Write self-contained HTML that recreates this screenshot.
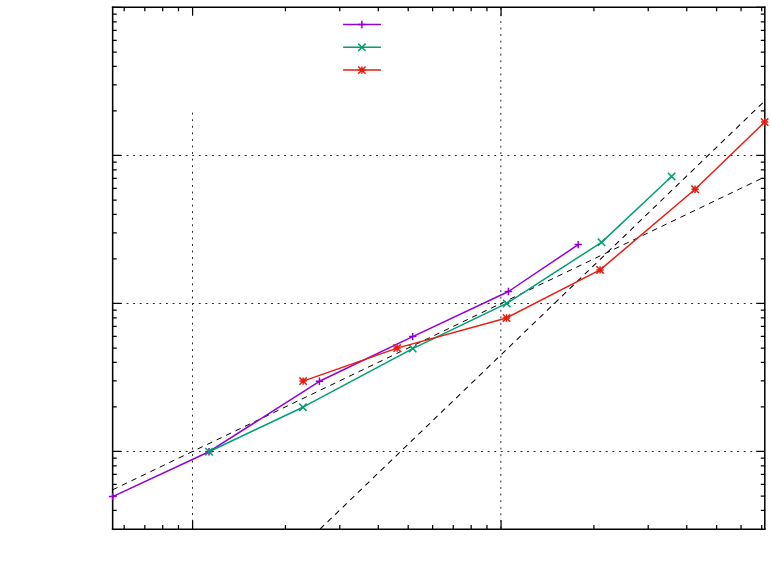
<!DOCTYPE html><html><head><meta charset="utf-8"><style>html,body{margin:0;padding:0;background:#fff;font-family:"Liberation Sans",sans-serif}svg{display:block;position:absolute;left:0;top:0}</style></head><body>
<svg width="771" height="572" viewBox="0 0 771 572">
<rect width="771" height="572" fill="#fff"/>
<line x1="113.47" y1="451.50" x2="764.85" y2="451.50" stroke="#262626" stroke-width="1.0" stroke-dasharray="1.9 4.665" fill="none"/>
<line x1="113.47" y1="303.50" x2="764.85" y2="303.50" stroke="#262626" stroke-width="1.0" stroke-dasharray="1.9 4.665" fill="none"/>
<line x1="113.47" y1="155.50" x2="764.85" y2="155.50" stroke="#262626" stroke-width="1.0" stroke-dasharray="1.9 4.665" fill="none"/>
<line x1="192.50" y1="112.7" x2="192.50" y2="529.1" stroke="#262626" stroke-width="1.0" stroke-dasharray="1.9 4.665" fill="none"/>
<line x1="500.85" y1="7.83" x2="500.85" y2="529.1" stroke="#262626" stroke-width="1.0" stroke-dasharray="1.9 4.665" fill="none"/>
<path d="M124.17 529.1v-4.1M124.17 7.2v4.1M144.82 529.1v-4.1M144.82 7.2v4.1M162.71 529.1v-4.1M162.71 7.2v4.1M178.49 529.1v-4.1M178.49 7.2v4.1M192.60 529.1v-8.6M192.60 7.2v8.6M285.45 529.1v-4.1M285.45 7.2v4.1M339.77 529.1v-4.1M339.77 7.2v4.1M378.31 529.1v-4.1M378.31 7.2v4.1M408.20 529.1v-4.1M408.20 7.2v4.1M432.62 529.1v-4.1M432.62 7.2v4.1M453.27 529.1v-4.1M453.27 7.2v4.1M471.16 529.1v-4.1M471.16 7.2v4.1M486.94 529.1v-4.1M486.94 7.2v4.1M501.05 529.1v-8.6M501.05 7.2v8.6M593.90 529.1v-4.1M593.90 7.2v4.1M648.22 529.1v-4.1M648.22 7.2v4.1M686.76 529.1v-4.1M686.76 7.2v4.1M716.65 529.1v-4.1M716.65 7.2v4.1M741.07 529.1v-4.1M741.07 7.2v4.1M761.72 529.1v-4.1M761.72 7.2v4.1M112.65 510.35h4.1M764.85 510.35h-4.1M112.65 496.00h4.1M764.85 496.00h-4.1M112.65 484.28h4.1M764.85 484.28h-4.1M112.65 474.38h4.1M764.85 474.38h-4.1M112.65 465.79h4.1M764.85 465.79h-4.1M112.65 458.22h4.1M764.85 458.22h-4.1M112.65 451.45h8.6M764.85 451.45h-8.6M112.65 406.90h4.1M764.85 406.90h-4.1M112.65 380.84h4.1M764.85 380.84h-4.1M112.65 362.35h4.1M764.85 362.35h-4.1M112.65 348.00h4.1M764.85 348.00h-4.1M112.65 336.28h4.1M764.85 336.28h-4.1M112.65 326.38h4.1M764.85 326.38h-4.1M112.65 317.79h4.1M764.85 317.79h-4.1M112.65 310.22h4.1M764.85 310.22h-4.1M112.65 303.45h8.6M764.85 303.45h-8.6M112.65 258.90h4.1M764.85 258.90h-4.1M112.65 232.84h4.1M764.85 232.84h-4.1M112.65 214.35h4.1M764.85 214.35h-4.1M112.65 200.00h4.1M764.85 200.00h-4.1M112.65 188.28h4.1M764.85 188.28h-4.1M112.65 178.38h4.1M764.85 178.38h-4.1M112.65 169.79h4.1M764.85 169.79h-4.1M112.65 162.22h4.1M764.85 162.22h-4.1M112.65 155.45h8.6M764.85 155.45h-8.6M112.65 110.90h4.1M764.85 110.90h-4.1M112.65 84.84h4.1M764.85 84.84h-4.1M112.65 66.35h4.1M764.85 66.35h-4.1M112.65 52.00h4.1M764.85 52.00h-4.1M112.65 40.28h4.1M764.85 40.28h-4.1M112.65 30.38h4.1M764.85 30.38h-4.1M112.65 21.79h4.1M764.85 21.79h-4.1M112.65 14.22h4.1M764.85 14.22h-4.1M112.65 7.45h8.6M764.85 7.45h-8.6" stroke="#000" stroke-width="1.25" fill="none"/>
<line x1="112.45" y1="489.91" x2="764.85" y2="176.87" stroke="#000" stroke-width="1.0" stroke-dasharray="5.6 4.9" fill="none"/>
<line x1="320.0" y1="529.1" x2="764.85" y2="100.80" stroke="#000" stroke-width="1.04" stroke-dasharray="5.6 4.9" fill="none"/>
<path d="M112.65 6.45V530.0" stroke="#000" stroke-width="1.55" fill="none"/>
<path d="M764.8000000000001 6.45V530.0" stroke="#000" stroke-width="1.5" fill="none"/>
<path d="M111.88000000000001 7.2H765.5500000000001" stroke="#000" stroke-width="1.5" fill="none"/>
<path d="M111.88000000000001 529.2H765.5500000000001" stroke="#000" stroke-width="1.62" fill="none"/>
<path d="M343.1 24.55H380.9" stroke="#9400D3" stroke-width="1.5" fill="none"/>
<polyline points="112.65,496.60 209.00,451.70 319.45,381.30 412.70,336.60 508.45,291.50 578.25,244.60" stroke="#9400D3" stroke-width="1.5" fill="none" stroke-linejoin="round"/>
<path d="M358.20 24.55h7.4M361.90 20.85v7.4M108.95 496.60h7.4M112.65 492.90v7.4M205.30 451.70h7.4M209.00 448.00v7.4M315.75 381.30h7.4M319.45 377.60v7.4M409.00 336.60h7.4M412.70 332.90v7.4M504.75 291.50h7.4M508.45 287.80v7.4M574.55 244.60h7.4M578.25 240.90v7.4" stroke="#9400D3" stroke-width="1.5" fill="none"/>
<path d="M343.1 47.33H380.9" stroke="#009E73" stroke-width="1.5" fill="none"/>
<polyline points="209.00,451.70 302.90,407.20 412.70,348.60 506.65,303.40 601.50,242.35 671.60,176.45" stroke="#009E73" stroke-width="1.5" fill="none" stroke-linejoin="round"/>
<path d="M358.20 43.63l7.4 7.4M358.20 51.03l7.4 -7.4M205.30 448.00l7.4 7.4M205.30 455.40l7.4 -7.4M299.20 403.50l7.4 7.4M299.20 410.90l7.4 -7.4M409.00 344.90l7.4 7.4M409.00 352.30l7.4 -7.4M502.95 299.70l7.4 7.4M502.95 307.10l7.4 -7.4M597.80 238.65l7.4 7.4M597.80 246.05l7.4 -7.4M667.90 172.75l7.4 7.4M667.90 180.15l7.4 -7.4" stroke="#009E73" stroke-width="1.5" fill="none"/>
<path d="M343.1 70.11H380.9" stroke="#E51E10" stroke-width="1.5" fill="none"/>
<polyline points="303.10,381.10 397.10,348.10 506.50,317.95 600.10,269.90 695.10,189.30 764.65,122.10" stroke="#E51E10" stroke-width="1.5" fill="none" stroke-linejoin="round"/>
<path d="M358.20 70.11h7.4M361.90 66.41v7.4M358.20 66.41l7.4 7.4M358.20 73.81l7.4 -7.4M299.40 381.10h7.4M303.10 377.40v7.4M299.40 377.40l7.4 7.4M299.40 384.80l7.4 -7.4M393.40 348.10h7.4M397.10 344.40v7.4M393.40 344.40l7.4 7.4M393.40 351.80l7.4 -7.4M502.80 317.95h7.4M506.50 314.25v7.4M502.80 314.25l7.4 7.4M502.80 321.65l7.4 -7.4M596.40 269.90h7.4M600.10 266.20v7.4M596.40 266.20l7.4 7.4M596.40 273.60l7.4 -7.4M691.40 189.30h7.4M695.10 185.60v7.4M691.40 185.60l7.4 7.4M691.40 193.00l7.4 -7.4M760.95 122.10h7.4M764.65 118.40v7.4M760.95 118.40l7.4 7.4M760.95 125.80l7.4 -7.4" stroke="#E51E10" stroke-width="1.5" fill="none"/>
</svg></body></html>
